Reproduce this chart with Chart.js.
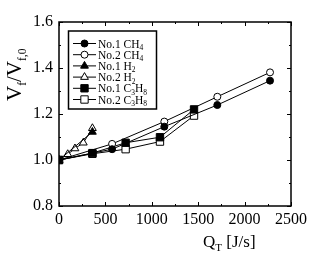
<!DOCTYPE html>
<html>
<head>
<meta charset="utf-8">
<script src="https://cdn.jsdelivr.net/npm/chart.js@4/dist/chart.umd.min.js"></script>
<style>
  html, body { margin: 0; padding: 0; background: #fff; }
  #wrap { width: 315px; height: 256px; }
</style>
</head>
<body>
<div id="wrap"><canvas id="chart" width="315" height="256"></canvas></div>
<script>
// data
var ch4No1X = [0, 572, 1135, 1706, 2274]
var ch4No1Y = [1.0, 1.047, 1.145, 1.239, 1.345]
var ch4No2X = [0, 572, 1135, 1706, 2274]
var ch4No2Y = [1.0, 1.07, 1.167, 1.275, 1.381]
var h2No1X = [0, 360]
var h2No1Y = [1.0, 1.122]
var h2No2X = [0, 94, 172, 262, 360]
var h2No2Y = [1.0, 1.025, 1.05, 1.075, 1.138]
var c3h8No1X = [0, 360, 718, 1088, 1455]
var c3h8No1Y = [1.0, 1.03, 1.075, 1.099, 1.22]
var c3h8No2X = [0, 360, 718, 1088, 1455]
var c3h8No2Y = [1.0, 1.027, 1.047, 1.08, 1.193]

var seriesNames = ["No.1 CH_4", "No.2 CH_4", "No.1 H_2", "No.2 H_2", "No.1 C_3H_8", "No.2 C_3H_8"]
var xTicks = [0, 500, 1000, 1500, 2000, 2500]
var yTicks = [0.8, 1.0, 1.2, 1.4, 1.6]
var xTitle = "Q_T [J/s]"
var yTitle = "V_f/V_{f,0}"

var serif = "'Liberation Serif', 'DejaVu Serif', serif"

function pts(xs, ys) {
  return xs.map(function(x, i) { return {x: x, y: ys[i]} })
}

function makeSet(name, xs, ys, style, filled, r) {
  return {
    label: name,
    data: pts(xs, ys),
    showLine: true,
    borderColor: "#000",
    borderWidth: 1,
    pointStyle: style,
    pointRadius: r,
    pointHoverRadius: r,
    pointBorderWidth: 1,
    pointBorderColor: "#000",
    pointBackgroundColor: filled ? "#000" : "#fff",
    backgroundColor: filled ? "#000" : "#fff"
  }
}

var datasets = [
  makeSet(seriesNames[0], ch4No1X, ch4No1Y, "circle", true, 3.5),
  makeSet(seriesNames[1], ch4No2X, ch4No2Y, "circle", false, 3.5),
  makeSet(seriesNames[2], h2No1X, h2No1Y, "triangle", true, 4.5),
  makeSet(seriesNames[3], h2No2X, h2No2Y, "triangle", false, 4.5),
  makeSet(seriesNames[4], c3h8No1X, c3h8No1Y, "rect", true, 5.2),
  makeSet(seriesNames[5], c3h8No2X, c3h8No2Y, "rect", false, 5.2)
]

// splits "CH_4" / "V_{f,0}" into normal and subscript parts
function parseRich(text) {
  var parts = [], buf = "", i = 0
  while (i < text.length) {
    var c = text[i]
    if (c === "_") {
      if (buf) parts.push({t: buf, sub: false})
      buf = ""
      if (text[i + 1] === "{") {
        var end = text.indexOf("}", i)
        parts.push({t: text.slice(i + 2, end), sub: true})
        i = end + 1
      } else {
        parts.push({t: text[i + 1], sub: true})
        i += 2
      }
    } else {
      buf += c
      i++
    }
  }
  if (buf) parts.push({t: buf, sub: false})
  return parts
}

function drawRich(ctx, text, x, y, size, subScale) {
  var parts = parseRich(text)
  var ss = subScale || 0.65
  ctx.textBaseline = "alphabetic"
  ctx.textAlign = "left"
  parts.forEach(function(p) {
    var s = p.sub ? size * ss : size
    ctx.font = s + "px " + serif
    ctx.fillText(p.t, x, p.sub ? y + size * 0.22 : y)
    x += ctx.measureText(p.t).width
  })
  return x
}

var framePlugin = {
  id: "frame",
  afterDraw: function(chart) {
    var ctx = chart.ctx, a = chart.chartArea
    var xs = chart.scales.x, ys = chart.scales.y
    ctx.save()
    ctx.strokeStyle = "#000"
    ctx.fillStyle = "#000"

    // ticks pointing inward, mirrored on all sides
    ctx.lineWidth = 1
    ctx.beginPath()
    for (var v = 0; v <= 2500; v += 250) {
      var px = Math.round(xs.getPixelForValue(v)) + 0.5
      var len = (v % 500 === 0) ? 4 : 2
      ctx.moveTo(px, a.bottom); ctx.lineTo(px, a.bottom - len)
      ctx.moveTo(px, a.top); ctx.lineTo(px, a.top + len)
    }
    for (var k = 0; k <= 8; k++) {
      var val = 0.8 + k * 0.1
      var py = Math.round(ys.getPixelForValue(val)) + 0.5
      var l2 = (k % 2 === 0) ? 4 : 2
      ctx.moveTo(a.left, py); ctx.lineTo(a.left + l2, py)
      ctx.moveTo(a.right, py); ctx.lineTo(a.right - l2, py)
    }
    ctx.stroke()

    ctx.lineWidth = 1.5
    ctx.strokeRect(a.left, a.top, a.right - a.left, a.bottom - a.top)

    // axis titles
    drawRich(ctx, xTitle, 203, 247, 17)
    ctx.translate(21, 101)
    ctx.rotate(-Math.PI / 2)
    drawRich(ctx, yTitle, 0, 0, 21, 0.55)
    ctx.setTransform(1, 0, 0, 1, 0, 0)

    // legend with line through marker
    var bx = 68.5, by = 31, bw = 88, bh = 78
    ctx.fillStyle = "#fff"
    ctx.fillRect(bx, by, bw, bh)
    ctx.lineWidth = 1.5
    ctx.strokeRect(bx, by, bw, bh)
    chart.data.datasets.forEach(function(ds, i) {
      var ry = 43.5 + i * 11.2
      ctx.strokeStyle = "#000"
      ctx.lineWidth = 1
      ctx.beginPath()
      ctx.moveTo(73, ry); ctx.lineTo(96, ry)
      ctx.stroke()
      ctx.fillStyle = ds.pointBackgroundColor
      Chart.helpers.drawPoint(ctx, {
        pointStyle: ds.pointStyle,
        radius: ds.pointRadius,
        borderWidth: 1
      }, 84.5, ry)
      ctx.fillStyle = "#000"
      drawRich(ctx, ds.label, 98, ry + 4, 11.5)
    })
    ctx.restore()
  }
}

new Chart(document.getElementById("chart").getContext("2d"), {
  type: "scatter",
  data: { datasets: datasets },
  options: {
    responsive: false,
    animation: false,
    events: [],
    layout: { padding: { left: 0, top: 22, right: 24, bottom: 0 } },
    plugins: {
      legend: { display: false },
      tooltip: { enabled: false }
    },
    scales: {
      x: {
        type: "linear",
        min: 0,
        max: 2500,
        afterFit: function(s) { s.height = 50 },
        afterBuildTicks: function(s) { s.ticks = xTicks.map(function(v) { return {value: v} }) },
        grid: { drawOnChartArea: false, drawTicks: false },
        border: { display: false },
        ticks: {
          padding: 4,
          color: "#000",
          maxRotation: 0,
          autoSkip: false,
          font: { family: serif, size: 16 },
          callback: function(v) { return String(v) }
        }
      },
      y: {
        type: "linear",
        min: 0.8,
        max: 1.6,
        afterFit: function(s) { s.width = 59 },
        afterBuildTicks: function(s) { s.ticks = yTicks.map(function(v) { return {value: v} }) },
        grid: { drawOnChartArea: false, drawTicks: false },
        border: { display: false },
        ticks: {
          padding: 6,
          color: "#000",
          autoSkip: false,
          font: { family: serif, size: 16 },
          callback: function(v) { return v.toFixed(1) }
        }
      }
    }
  },
  plugins: [framePlugin]
})
</script>
</body>
</html>
